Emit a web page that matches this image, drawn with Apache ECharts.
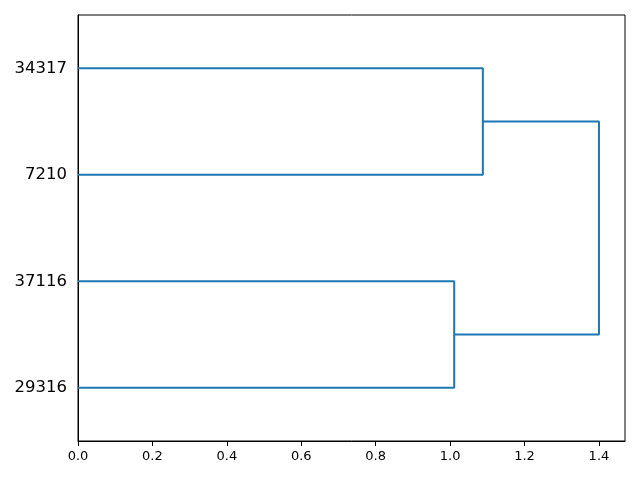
<!DOCTYPE html>
<html>
<head>
<meta charset="utf-8">
<script src="https://cdn.jsdelivr.net/npm/echarts@6/dist/echarts.min.js"></script>
<style>html,body{margin:0;padding:0;background:#fff}#c{width:640px;height:480px}</style>
</head>
<body>
<div id="c"></div>
<script>
// Leaves, bottom to top
const leafLabels = ['29316', '37116', '7210', '34317'];
// Merges (scipy-style linkage): node ids 0..3 are leaves, 4.. are clusters
const mergeA = [0, 2, 4];
const mergeB = [1, 3, 5];
const mergeHeight = [1.011, 1.088, 1.400];
const xTickStep = 0.2;

const nodeY = leafLabels.map((_, i) => 5 + 10 * i);
const nodeH = leafLabels.map(() => 0);
const series = [];
for (let k = 0; k < mergeA.length; k++) {
  const a = mergeA[k], b = mergeB[k], h = mergeHeight[k];
  series.push({
    type: 'line',
    symbol: 'none',
    silent: true,
    lineStyle: { color: '#1f77b4', width: 2 },
    data: [[nodeH[a], nodeY[a]], [h, nodeY[a]], [h, nodeY[b]], [nodeH[b], nodeY[b]]]
  });
  nodeY.push((nodeY[a] + nodeY[b]) / 2);
  nodeH.push(h);
}
const xMax = Math.max(...mergeHeight) * 1.05;
const labelByY = {};
leafLabels.forEach((l, i) => { labelByY[5 + 10 * i] = l; });

const chart = echarts.init(document.getElementById('c'), null, { renderer: 'canvas' });
chart.setOption({
  animation: false,
  backgroundColor: '#fff',
  grid: { left: 78, right: 15, top: 15, bottom: 39, show: true, borderColor: '#000', borderWidth: 1, backgroundColor: 'transparent' },
  xAxis: {
    type: 'value', min: 0, max: xMax, interval: xTickStep,
    axisLine: { show: true, lineStyle: { color: '#000', width: 1 } },
    axisTick: { show: true, length: 5, lineStyle: { color: '#000' } },
    axisLabel: { color: '#000', fontFamily: 'DejaVu Sans', fontSize: 13, margin: 9, showMaxLabel: false, formatter: v => v.toFixed(1) },
    splitLine: { show: false }
  },
  yAxis: {
    type: 'value', min: 0, max: 40, interval: 5,
    axisLine: { show: true, lineStyle: { color: '#000', width: 1 } },
    axisTick: { show: false },
    axisLabel: { color: '#000', fontFamily: 'DejaVu Sans', fontSize: 16.5, margin: 11, showMinLabel: true, showMaxLabel: true, formatter: v => labelByY[v] || '' },
    splitLine: { show: false }
  },
  series: series
});
</script>
</body>
</html>
